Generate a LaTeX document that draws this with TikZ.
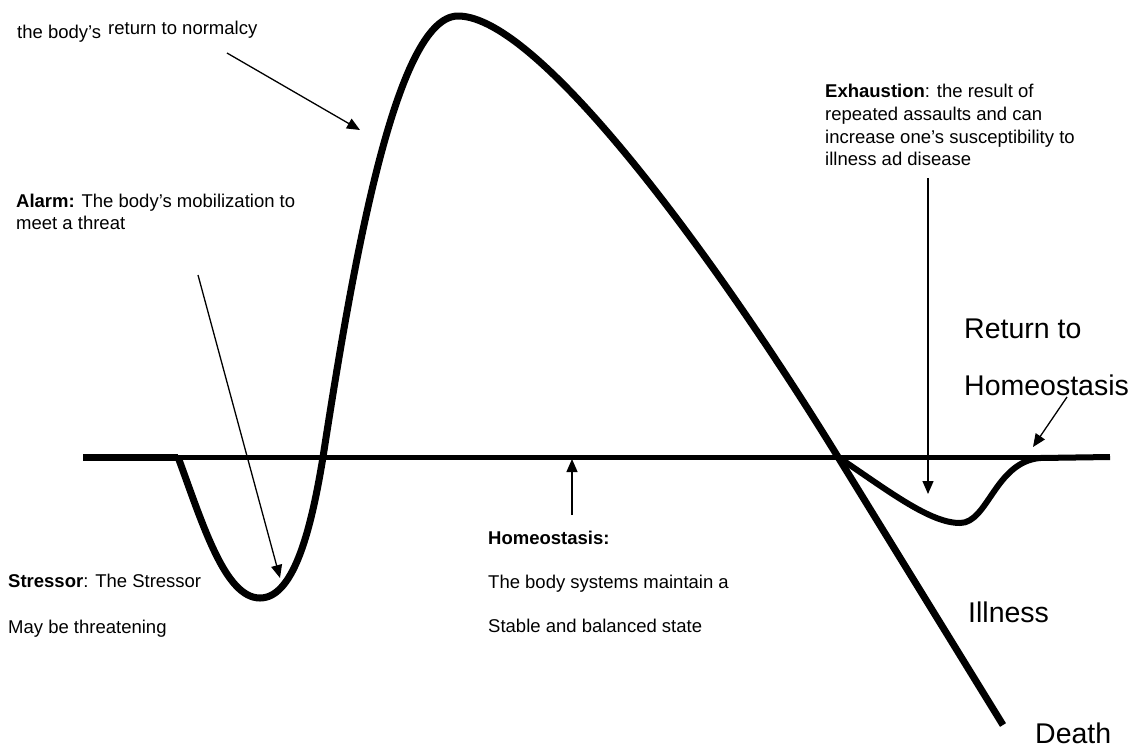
\documentclass[tikz,border=0pt]{standalone}
\usepackage{fontspec}
\setmainfont{Liberation Sans}
\usetikzlibrary{arrows.meta}
\begin{document}
\begin{tikzpicture}[x=1pt,y=-1pt,
  lbl/.style={anchor=base west,inner sep=0pt,font=\fontsize{18.5}{22}\selectfont},
  big/.style={anchor=base west,inner sep=0pt,font=\fontsize{28.5}{34}\selectfont},
  pointer/.style={line width=1.3pt,-{Triangle[length=13pt,width=11pt]}},
  curve/.style={line width=7pt,line join=round},
  branch/.style={line width=6pt,line join=round},
  baseline/.style={line width=5pt}]
\useasboundingbox (0,0) rectangle (1138,748);

% baseline (homeostasis level)
\draw[line width=7pt] (83,457) -- (178,457);
\draw[baseline] (178,457) -- (1110,457);

% main stress response curve
\draw[curve] (178,457) .. controls (203,525) and (225,598) .. (260,598)
  .. controls (292,598) and (310,537) .. (323,457)
  .. controls (352,270) and (395,16) .. (458,16)
  .. controls (540,16) and (720,265) .. (838,457)
  -- (1003,725);

% exhaustion branch back to homeostasis
\draw[branch] (838,457) .. controls (890,492) and (930,523) .. (960,523)
  .. controls (988,523) and (995,462) .. (1040,458) -- (1110,457);

% labels
\node[lbl] (bodya) at (17,38) {the body’s};
\node[lbl] (bodyb) at (108,34) {return to normalcy};
\node[lbl] (alarm1) at (16,207) {\textbf{Alarm:} The body’s mobilization to};
\node[lbl] (alarm2) at (16,229) {meet a threat};
\node[lbl] (stress1) at (8,587) {\textbf{Stressor}: The Stressor};
\node[lbl] (stress2) at (8,633) {May be threatening};
\node[lbl] (homeo1) at (488,544) {\textbf{Homeostasis:}};
\node[lbl] (homeo2) at (488,588) {The body systems maintain a};
\node[lbl] (homeo3) at (488,632) {Stable and balanced state};
\node[lbl] (exh1) at (825,97) {\textbf{Exhaustion}: the result of};
\node[lbl] (exh2) at (825,120) {repeated assaults and can};
\node[lbl] (exh3) at (825,143) {increase one’s susceptibility to};
\node[lbl] (exh4) at (825,165) {illness ad disease};
\node[big] (ret1) at (964,338) {Return to};
\node[big] (ret2) at (964,395) {Homeostasis};
\node[big] (ill) at (968,622) {Illness};
\node[big] (death) at (1035,743) {Death};

% arrow endpoints
\coordinate (normS) at (227,53);
\coordinate (normE) at (360,130);
\coordinate (alarmS) at (198,275);
\coordinate (alarmE) at (280,578);
\coordinate (homS) at (572,515);
\coordinate (homE) at (572,459);
\coordinate (exhS) at (928,178);
\coordinate (exhE) at (928,494);
\coordinate (retS) at (1067,397);
\coordinate (retE) at (1033,447);

\draw[pointer] (normS) -- (normE);
\draw[pointer] (alarmS) -- (alarmE);
\draw[pointer] (homS) -- (homE);
\draw[pointer] (exhS) -- (exhE);
\draw[pointer] (retS) -- (retE);
\end{tikzpicture}
\end{document}
